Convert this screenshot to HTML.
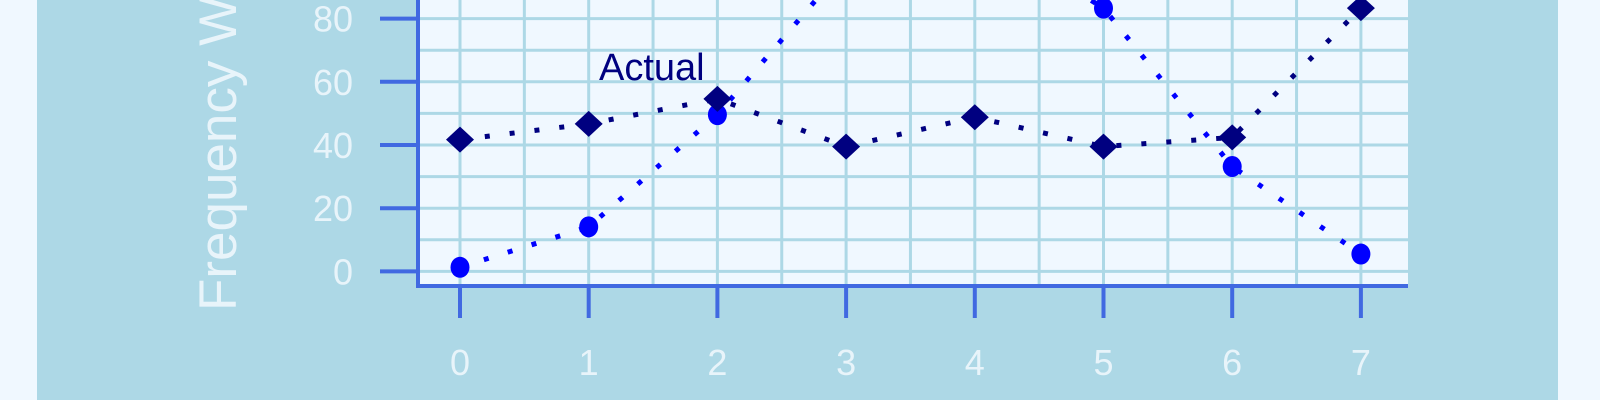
<!DOCTYPE html>
<html><head><meta charset="utf-8"><style>
html,body{margin:0;padding:0;background:#f0f8ff;}
svg{display:block;}
text{font-family:"Liberation Sans","DejaVu Sans",sans-serif;}
</style></head><body>
<svg id="chart" width="1600" height="400" xmlns="http://www.w3.org/2000/svg">
<rect x="0" y="0" width="1600" height="400" fill="#f0f8ff"/>
<rect x="37" y="0" width="1521" height="400" fill="#add8e6"/>
<rect x="418" y="0" width="990" height="284" fill="#f0f8ff"/>
<g id="grid"></g>
<g id="axes"></g>
<g id="series"></g>
<text x="599" y="80" font-size="38" fill="#000080">Actual</text>
<text transform="translate(236,311) rotate(-90)" font-size="53" fill="#e8f4fa">Frequency Weight</text>
</svg>
<script>
const categories = [0,1,2,3,4,5,6,7];
const yTicks = [0,20,40,60,80];
const seriesCircle = [1.3,14.1,49.6,97,109,83.3,33.2,5.5];
const seriesDiamond = [41.7,46.7,54.6,39.5,48.8,39.5,42.4,83.3];
const NS='http://www.w3.org/2000/svg';
const xs = v => 460 + v*128.7;
const ys = v => 271.4 - v*3.16;
function mk(tag, attrs, parent){const e=document.createElementNS(NS,tag);for(const k in attrs)e.setAttribute(k,attrs[k]);parent.appendChild(e);return e;}
const grid=document.getElementById('grid'), axes=document.getElementById('axes'), ser=document.getElementById('series');
for(let x=0;x<=7.01;x+=0.5){
  const l=mk('line',{x1:xs(x),x2:xs(x),y1:0,y2:284,stroke:'#add8e6','stroke-width':3},grid);
  
  
}
for(let v=0;v<=80;v+=10){
  const l=mk('line',{x1:418,x2:1408,y1:ys(v),y2:ys(v),stroke:'#add8e6','stroke-width':3},grid);
  
  
}
const ya=mk('line',{x1:418,x2:418,y1:0,y2:288,stroke:'#4169e1','stroke-width':4},axes);


const xa=mk('line',{x1:416,x2:1408,y1:286,y2:286,stroke:'#4169e1','stroke-width':4},axes);


yTicks.forEach(v=>{
  const t=mk('line',{x1:380,x2:418,y1:ys(v),y2:ys(v),stroke:'#4169e1','stroke-width':4},axes);
  
  
  const tx=mk('text',{x:353,y:ys(v)+13,'text-anchor':'end','font-size':36,fill:'#e8f4fa'},axes);
  tx.textContent=v;
  
  
});
categories.forEach(c=>{
  const t=mk('line',{x1:xs(c),x2:xs(c),y1:286,y2:318,stroke:'#4169e1','stroke-width':4},axes);
  
  
  const tx=mk('text',{x:xs(c),y:375,'text-anchor':'middle','font-size':36,fill:'#e8f4fa'},axes);
  tx.textContent=c;
  
  
});
function line(vals,color,name){
  const pts=categories.map((c,i)=>xs(c)+','+ys(vals[i])).join(' ');
  const p=mk('polyline',{points:pts,fill:'none',stroke:color,'stroke-width':5,'stroke-dasharray':'5 20'},ser);
  
  
}
line(seriesCircle,'#0000ff','circle-series-line');
line(seriesDiamond,'#000080','diamond-series-line');
categories.forEach((c,i)=>{
  const e=mk('ellipse',{cx:xs(c),cy:ys(seriesCircle[i]),rx:9.5,ry:10.5,fill:'#0000ff'},ser);
  
  
});
categories.forEach((c,i)=>{
  const x=xs(c), y=ys(seriesDiamond[i]);
  const d=mk('polygon',{points:`${x},${y-13} ${x+14},${y} ${x},${y+13} ${x-14},${y}`,fill:'#000080'},ser);
  
  
});
</script>
</body></html>
